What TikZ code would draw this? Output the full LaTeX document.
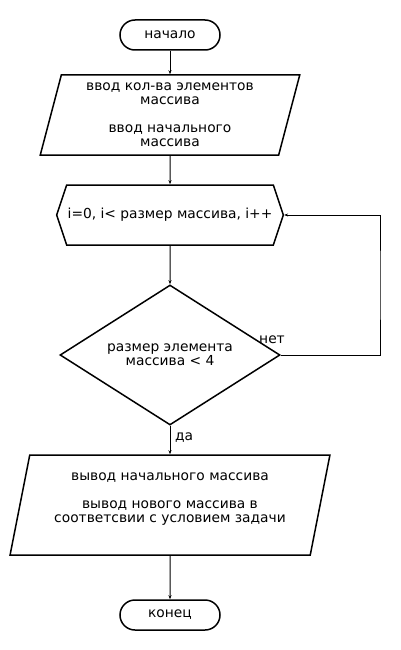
\documentclass[tikz,border=0pt]{standalone}
\usepackage{fontspec}
\setmainfont{DejaVu Sans}
\usetikzlibrary{shapes.geometric,shapes.symbols,arrows.meta}
\definecolor{flowblack}{RGB}{0,0,0}

\begin{document}
\begin{tikzpicture}[x=1pt, y=-1pt,
    every node/.style={font=\fontsize{13.8}{14}\selectfont, align=center, inner sep=1pt},
    termbox/.style={draw=flowblack, line width=1.5pt, rectangle, rounded corners=15pt,
        minimum width=100pt, minimum height=30pt},
    iobox/.style={draw=flowblack, line width=1.5pt, trapezium, trapezium stretches=true,
        trapezium left angle=76, trapezium right angle=104},
    loopbox/.style={draw=flowblack, line width=1.5pt, signal, signal to=west and east,
        signal pointer angle=143.13, minimum width=220pt, minimum height=60pt},
    checkbox/.style={draw=flowblack, line width=1.5pt, diamond, aspect=1.5714,
        minimum width=220pt, minimum height=140pt},
    flowline/.style={draw=flowblack, line width=1pt, -{Stealth[length=4pt,width=3pt]}}]
    \useasboundingbox (0,0) rectangle (400,650);

    % Start and input
    \node[termbox] (start) at (170,35) {начало};
    \node[iobox, minimum width=260pt, minimum height=80pt] (input) at (170,115)
        {ввод кол-ва элементов\\массива\\[14pt]ввод начального\\массива};

    % Loop header and condition
    \node[loopbox] (loop) at (170,215) {i=0, i< размер массива, i++};
    \node[checkbox] (check) at (170,355) {размер элемента\\массива < 4};
    \node (no) at (272,340) {нет};
    \node (yes) at (184,438) {да};

    % Output and end
    \node[iobox, minimum width=320pt, minimum height=100pt] (output) at (170,505)
        {вывод начального массива\\[14pt]вывод нового массива в\\соответсвии с условием задачи\\\mbox{}};
    \node[termbox] (stop) at (170,615) {конец};

    % Connectors
    \coordinate (loopr) at (380,285);
    \draw[flowline] (start) -- (input);
    \draw[flowline] (input) -- (loop);
    \draw[flowline] (loop) -- (check);
    \draw[flowline] (check) -- (output);
    \draw[flowline] (output) -- (stop);
    \draw[flowline] (check.east) -| (loopr) |- (loop.east);
\end{tikzpicture}
\end{document}
